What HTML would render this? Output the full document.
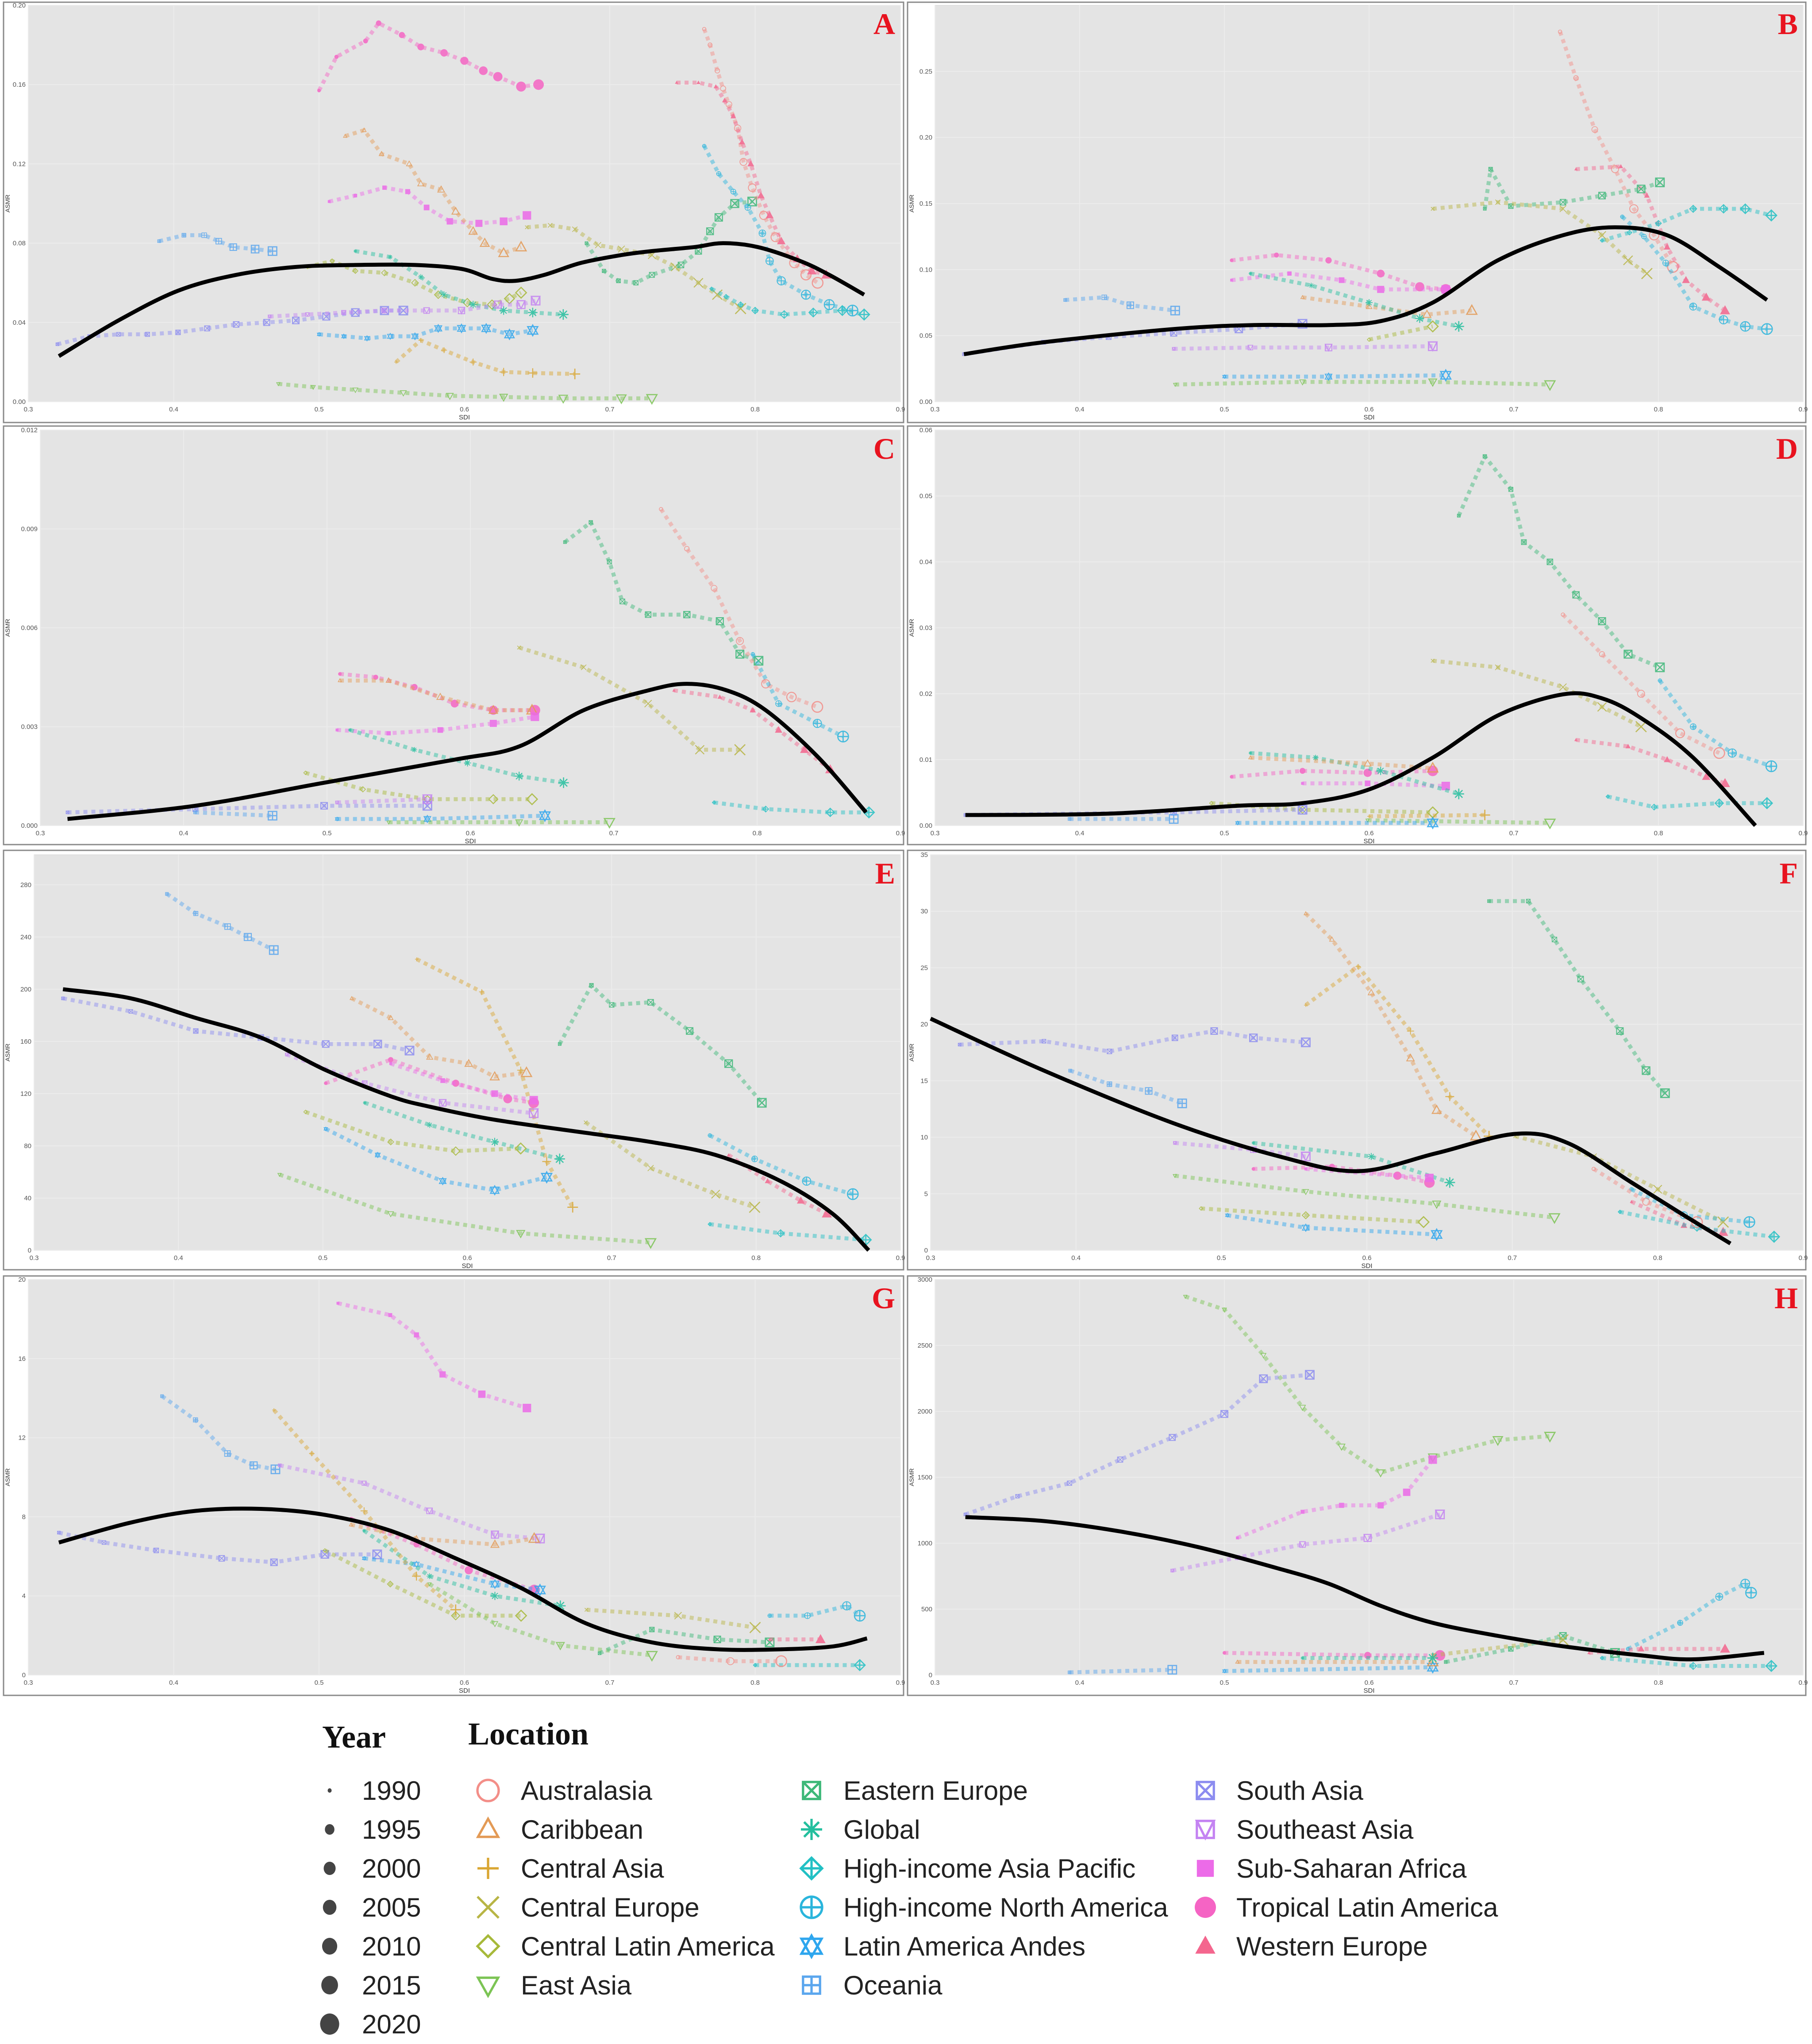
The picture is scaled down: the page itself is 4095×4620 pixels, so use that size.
<!DOCTYPE html>
<html><head><meta charset="utf-8">
<style>
html,body{margin:0;padding:0;background:#fff;}
svg{display:block;}
</style></head>
<body>
<svg id="chart" width="4095" height="4620" viewBox="0 0 4095 4620" xmlns="http://www.w3.org/2000/svg">
<rect width="4095" height="4620" fill="#fff"/>
<g id="panels"></g>
<g id="legend" font-family="Liberation Sans, sans-serif">
  <text x="728" y="3950" font-family="Liberation Serif, serif" font-weight="bold" font-size="72" fill="#111">Year</text>
  <text x="1058" y="3943" font-family="Liberation Serif, serif" font-weight="bold" font-size="72" fill="#111">Location</text>
</g>
</svg>
<script>
const NS='http://www.w3.org/2000/svg';
const svg=document.getElementById('chart');
const panelsG=document.getElementById('panels');

const locNames=['Australasia','Caribbean','Central Asia','Central Europe','Central Latin America','East Asia','Eastern Europe','Global','High-income Asia Pacific','High-income North America','Latin America Andes','Oceania','South Asia','Southeast Asia','Sub-Saharan Africa','Tropical Latin America','Western Europe'];
const locKeys=['aus','car','cas','ceu','cla','eas','eeu','glo','hap','hna','laa','oce','sas','sea','ssa','tla','weu'];
const locShapes=['circle','tri','plus','x','diamond','dtri','sqx','star','diaplus','cirplus','david','sqplus','sqx','hour','sqfill','cirfill','trifill'];
const locColors=['#F38E88','#E39A55','#D9A632','#B8B545','#A7B93A','#7CC454','#3DB878','#24BF9E','#22C0C4','#2AB5DC','#2EA6EE','#5AA6EE','#8C8CF0','#C483F2','#EC6BE8','#F564C4','#F4668E'];
const yearLabels=['1990','1995','2000','2005','2010','2015','2020'];
const yearSizes=[5,12,15,17,19,21,24];

// ---- Panel A data ----
const A_curve_x=[.321,.362,.403,.443,.484,.525,.566,.598,.619,.635,.655,.68,.708,.729,.758,.778,.802,.831,.851,.875];
const A_curve_y=[.023,.041,.056,.064,.068,.069,.069,.067,.062,.061,.064,.070,.074,.076,.078,.080,.078,.071,.064,.054];
const A_series=[
 ['tla',[.5,.512,.532,.541,.557,.57,.586,.6,.613,.623,.639,.651],[.157,.174,.182,.191,.185,.179,.176,.172,.167,.164,.159,.160]],
 ['ssa',[.507,.525,.545,.561,.574,.59,.61,.627,.643],[.101,.104,.108,.106,.098,.091,.090,.091,.094]],
 ['car',[.518,.531,.543,.562,.57,.584,.594,.606,.614,.627,.639],[.134,.137,.125,.120,.110,.107,.096,.086,.080,.075,.078]],
 ['cas',[.553,.57,.586,.606,.627,.647,.676],[.020,.031,.026,.020,.015,.0145,.014]],
 ['ceu',[.643,.659,.676,.692,.708,.729,.745,.761,.774,.79],[.088,.089,.087,.079,.077,.074,.068,.060,.054,.047]],
 ['cla',[.492,.509,.525,.545,.566,.582,.602,.619,.631,.639],[.068,.071,.066,.065,.060,.054,.050,.049,.052,.055]],
 ['eas',[.472,.496,.525,.558,.59,.627,.668,.708,.729],[.009,.0074,.006,.0045,.003,.0024,.0017,.0017,.0017]],
 ['eeu',[.684,.696,.706,.718,.729,.749,.761,.769,.775,.786,.798],[.080,.066,.061,.060,.064,.069,.076,.086,.093,.100,.101]],
 ['glo',[.525,.549,.57,.586,.606,.627,.647,.668],[.076,.073,.063,.054,.049,.046,.045,.044]],
 ['hna',[.765,.775,.785,.795,.805,.81,.818,.835,.851,.867],[.129,.115,.106,.098,.085,.071,.061,.054,.049,.046]],
 ['hap',[.77,.78,.79,.80,.82,.84,.86,.875],[.057,.053,.049,.046,.044,.045,.046,.044]],
 ['laa',[.5,.517,.533,.549,.566,.582,.598,.615,.631,.647],[.034,.033,.032,.033,.033,.037,.037,.037,.034,.036]],
 ['oce',[.39,.407,.421,.431,.441,.456,.468],[.081,.084,.084,.081,.078,.077,.076]],
 ['sas',[.32,.342,.362,.382,.403,.423,.443,.464,.484,.505,.525,.545,.558],[.029,.033,.034,.034,.035,.037,.039,.040,.041,.043,.045,.046,.046]],
 ['sea',[.466,.492,.517,.545,.574,.598,.623,.639,.649],[.043,.044,.045,.046,.046,.046,.049,.049,.051]],
 ['aus',[.765,.769,.774,.778,.782,.788,.792,.798,.806,.814,.827,.835,.843],[.188,.180,.167,.158,.150,.138,.121,.108,.094,.083,.070,.064,.060]],
 ['weu',[.746,.761,.773,.779,.785,.791,.797,.804,.81,.818,.829,.839,.849],[.161,.161,.159,.152,.144,.131,.120,.104,.094,.081,.072,.066,.064]]
];
// ---- Panel B ----
const B_curve_x=[.32,.375,.465,.52,.572,.608,.644,.689,.734,.77,.806,.842,.875];
const B_curve_y=[.036,.045,.055,.058,.058,.061,.075,.107,.126,.132,.126,.102,.077];
const B_series=[
 ['aus',[.732,.743,.756,.77,.783,.797,.81],[.28,.245,.206,.176,.146,.126,.102]],
 ['weu',[.743,.774,.792,.806,.819,.833,.846],[.176,.178,.156,.117,.092,.079,.069]],
 ['hna',[.775,.79,.805,.824,.845,.86,.875],[.14,.125,.105,.072,.062,.057,.055]],
 ['hap',[.761,.78,.80,.824,.845,.86,.878],[.122,.128,.135,.146,.146,.146,.141]],
 ['eeu',[.68,.684,.698,.734,.761,.788,.801],[.146,.176,.148,.151,.156,.161,.166]],
 ['ceu',[.644,.689,.734,.761,.779,.792],[.146,.151,.146,.126,.107,.097]],
 ['tla',[.505,.536,.572,.608,.635,.653],[.107,.111,.107,.097,.087,.085]],
 ['ssa',[.505,.545,.581,.608,.653],[.092,.097,.092,.085,.085]],
 ['car',[.554,.6,.64,.671],[.079,.072,.066,.069]],
 ['glo',[.518,.56,.6,.635,.662],[.097,.088,.075,.063,.057]],
 ['oce',[.39,.417,.435,.466],[.077,.079,.073,.069]],
 ['sas',[.32,.375,.42,.465,.51,.554],[.036,.045,.049,.052,.055,.059]],
 ['sea',[.465,.518,.572,.644],[.040,.041,.041,.042]],
 ['eas',[.466,.554,.644,.725],[.013,.015,.015,.013]],
 ['laa',[.5,.572,.653],[.019,.019,.020]],
 ['cla',[.6,.644],[.047,.057]]
];
// ---- Panel C ----
const C_curve_x=[.319,.408,.498,.589,.634,.679,.724,.751,.779,.806,.842,.876];
const C_curve_y=[.0002,.0006,.0013,.002,.0024,.0035,.0041,.0043,.0041,.0035,.0021,.0004];
const C_series=[
 ['eeu',[.666,.684,.697,.706,.724,.751,.774,.788,.801],[.0086,.0092,.008,.0068,.0064,.0064,.0062,.0052,.005]],
 ['aus',[.733,.751,.77,.788,.806,.824,.842],[.0096,.0084,.0072,.0056,.0043,.0039,.0036]],
 ['weu',[.742,.774,.797,.815,.833,.851],[.0041,.0039,.0035,.0029,.0023,.0017]],
 ['hna',[.797,.815,.842,.86],[.0052,.0037,.0031,.0027]],
 ['ceu',[.634,.679,.724,.76,.788],[.0054,.0048,.0037,.0023,.0023]],
 ['tla',[.509,.534,.561,.589,.616,.645],[.0046,.0045,.0042,.0037,.0035,.0035]],
 ['car',[.509,.543,.579,.616,.643],[.0044,.0044,.0039,.0035,.0035]],
 ['ssa',[.507,.543,.579,.616,.645],[.0029,.0028,.0029,.0031,.0033]],
 ['glo',[.516,.561,.598,.634,.665],[.0029,.0023,.0019,.0015,.0013]],
 ['cla',[.485,.525,.57,.616,.643],[.0016,.0011,.0008,.0008,.0008]],
 ['sas',[.319,.408,.498,.57],[.0004,.0005,.0006,.0006]],
 ['oce',[.408,.462],[.0004,.0003]],
 ['laa',[.507,.57,.652],[.0002,.0002,.0003]],
 ['eas',[.543,.634,.697],[.0001,.0001,.0001]],
 ['hap',[.77,.806,.851,.878],[.0007,.0005,.0004,.0004]],
 ['sea',[.507,.57],[.0007,.0008]]
];
// ---- Panel D ----
const D_curve_x=[.321,.419,.509,.554,.599,.644,.689,.734,.761,.788,.824,.867];
const D_curve_y=[.0016,.0018,.003,.0034,.0054,.0103,.0167,.0199,.0193,.0163,.0103,0];
const D_series=[
 ['eeu',[.662,.68,.698,.707,.725,.743,.761,.779,.801],[.047,.056,.051,.043,.040,.035,.031,.026,.024]],
 ['ceu',[.644,.689,.734,.761,.788],[.025,.024,.021,.018,.015]],
 ['aus',[.734,.761,.788,.815,.842],[.032,.026,.020,.014,.011]],
 ['hna',[.801,.824,.851,.878],[.022,.015,.011,.009]],
 ['weu',[.743,.779,.806,.833,.846],[.013,.012,.010,.0074,.0064]],
 ['hap',[.765,.797,.842,.875],[.0044,.0028,.0034,.0034]],
 ['tla',[.505,.554,.599,.644],[.0074,.0083,.008,.0083]],
 ['ssa',[.554,.599,.653],[.0064,.0064,.006]],
 ['glo',[.518,.563,.608,.662],[.011,.0103,.0083,.0048]],
 ['car',[.518,.599,.644],[.0103,.0094,.0087]],
 ['cla',[.491,.554,.644],[.0034,.0024,.002]],
 ['sas',[.321,.465,.554],[.0016,.002,.0024]],
 ['eas',[.599,.725],[.0008,.0004]],
 ['laa',[.509,.644],[.0004,.0004]],
 ['oce',[.393,.465],[.001,.001]],
 ['cas',[.6,.68],[.0014,.0016]]
];
// ---- Panel E ----
const E_curve_x=[.32,.367,.412,.457,.502,.547,.574,.619,.682,.727,.772,.817,.853,.878];
const E_curve_y=[200,193,178,163,138,118,110,100,90,83,73,53,28,0];
const E_series=[
 ['oce',[.392,.412,.434,.448,.466],[273,258,248,240,230]],
 ['sas',[.32,.367,.412,.457,.502,.538,.56],[193,183,168,163,158,158,153]],
 ['car',[.52,.547,.574,.601,.619,.641],[193,178,148,143,133,136]],
 ['cas',[.565,.61,.637,.655,.673],[223,198,138,68,33]],
 ['eeu',[.664,.686,.7,.727,.754,.781,.804],[158,203,188,190,168,143,113]],
 ['tla',[.502,.547,.592,.628,.646],[128,146,128,116,113]],
 ['ssa',[.547,.583,.619,.646],[143,130,120,115]],
 ['sea',[.475,.529,.583,.646],[150,128,113,105]],
 ['glo',[.529,.574,.619,.664],[113,96,83,70]],
 ['cla',[.488,.547,.592,.637],[106,83,76,78]],
 ['laa',[.502,.538,.583,.619,.655],[93,73,53,46,56]],
 ['eas',[.47,.547,.637,.727],[58,28,13,6]],
 ['ceu',[.682,.727,.772,.799],[98,63,43,33]],
 ['hna',[.768,.799,.835,.867],[88,70,53,43]],
 ['weu',[.781,.808,.831,.849],[73,53,38,28]],
 ['hap',[.768,.817,.876],[20,13,8]]
];
// ---- Panel F ----
const F_curve_x=[.3,.378,.468,.54,.594,.648,.702,.738,.782,.818,.85];
const F_curve_y=[20.5,15.9,11.2,8.3,7,8.6,10.3,9.5,6,3.1,.6];
const F_series=[
 ['sas',[.32,.378,.423,.468,.495,.522,.558],[18.2,18.5,17.6,18.8,19.4,18.8,18.4]],
 ['oce',[.396,.423,.45,.473],[15.9,14.7,14.1,13]],
 ['car',[.558,.576,.603,.63,.648,.675],[29.8,27.5,22.8,17,12.4,10.1]],
 ['cas',[.558,.594,.63,.657,.684],[21.7,25.1,19.4,13.6,10.1]],
 ['eeu',[.684,.711,.729,.747,.774,.792,.805],[30.9,30.9,27.5,24,19.4,15.9,13.9]],
 ['sea',[.468,.522,.558],[9.5,8.9,8.3]],
 ['glo',[.522,.603,.657],[9.5,8.3,6]],
 ['tla',[.522,.576,.621,.643],[7.2,7.4,6.6,6]],
 ['ssa',[.558,.643],[7.2,6.4]],
 ['cla',[.486,.558,.639],[3.7,3.1,2.5]],
 ['laa',[.504,.558,.648],[3.1,2,1.4]],
 ['eas',[.468,.558,.648,.729],[6.6,5.2,4.1,2.9]],
 ['ceu',[.702,.756,.8,.845],[10.1,8.3,5.4,2.5]],
 ['hna',[.782,.818,.863],[5.4,3.1,2.5]],
 ['weu',[.782,.818,.845],[4.3,2.2,1.6]],
 ['hap',[.774,.827,.88],[3.4,2,1.2]],
 ['aus',[.756,.792,.827],[7.2,4.3,2.5]]
];
// ---- Panel G ----
const G_curve_x=[.321,.37,.415,.46,.504,.549,.594,.639,.684,.729,.774,.818,.854,.877];
const G_curve_y=[6.7,7.7,8.3,8.4,8.1,7.3,5.9,4.4,2.6,1.65,1.3,1.3,1.45,1.85];
const G_series=[
 ['ssa',[.513,.549,.567,.585,.612,.643],[18.8,18.2,17.2,15.2,14.2,13.5]],
 ['oce',[.392,.415,.437,.455,.47],[14.1,12.9,11.2,10.6,10.4]],
 ['sas',[.321,.352,.388,.433,.469,.504,.54],[7.2,6.7,6.3,5.9,5.7,6.1,6.1]],
 ['sea',[.473,.531,.576,.621,.652],[10.6,9.7,8.3,7.1,6.9]],
 ['car',[.522,.567,.621,.648],[7.6,6.9,6.6,6.9]],
 ['tla',[.522,.567,.603,.648],[7.9,6.6,5.3,4.3]],
 ['laa',[.531,.567,.621,.652],[5.9,5.6,4.6,4.3]],
 ['glo',[.531,.576,.621,.666],[7.3,5,4,3.5]],
 ['cla',[.504,.549,.594,.639],[6.3,4.6,3,3]],
 ['cas',[.469,.495,.531,.567,.594],[13.4,11.2,8.3,5,3.3]],
 ['eas',[.576,.621,.666,.729],[4.6,2.6,1.5,1]],
 ['ceu',[.684,.747,.8],[3.3,3,2.4]],
 ['eeu',[.693,.729,.774,.81],[1.1,2.3,1.8,1.65]],
 ['hna',[.81,.836,.863,.872],[3,3,3.5,3]],
 ['weu',[.81,.845],[1.8,1.8]],
 ['hap',[.8,.872],[.5,.5]],
 ['aus',[.747,.783,.818],[.9,.7,.7]]
];
// ---- Panel H ----
const H_curve_x=[.321,.375,.428,.482,.536,.572,.608,.644,.689,.734,.788,.824,.873];
const H_curve_y=[1198,1168,1089,970,812,693,525,396,297,218,149,119,168];
const H_series=[
 ['sas',[.321,.357,.393,.428,.464,.5,.527,.559],[1218,1356,1455,1634,1802,1980,2247,2277]],
 ['eas',[.473,.5,.527,.554,.581,.608,.644,.689,.725],[2871,2772,2426,2030,1733,1535,1653,1782,1812]],
 ['ssa',[.509,.554,.581,.608,.626,.644],[1040,1238,1287,1287,1386,1634]],
 ['sea',[.464,.509,.554,.599,.649],[792,891,990,1040,1218]],
 ['hna',[.779,.815,.842,.86,.864],[198,396,594,693,624]],
 ['tla',[.5,.599,.649],[168,149,149]],
 ['weu',[.752,.788,.846],[168,198,198]],
 ['hap',[.761,.824,.878],[129,69,69]],
 ['eeu',[.653,.698,.734,.77],[99,198,297,168]],
 ['ceu',[.644,.734],[149,267]],
 ['oce',[.393,.464],[20,40]],
 ['laa',[.5,.644],[30,59]],
 ['car',[.509,.644],[99,99]],
 ['glo',[.554,.644],[129,129]]
];

const panels=[
 {id:'A',fx:8,fy:5,fw:2034,fh:950,pl:64,pr:2035,pt:12,pb:908,ymax:.2,ticks:[0,.04,.08,.12,.16,.20],dec:2,cx:A_curve_x,cy:A_curve_y,s:A_series},
 {id:'B',fx:2051,fy:5,fw:2030,fh:950,pl:2113,pr:4075,pt:12,pb:908,ymax:.3,ticks:[0,.05,.10,.15,.20,.25],dec:2,cx:B_curve_x,cy:B_curve_y,s:B_series},
 {id:'C',fx:8,fy:963,fw:2034,fh:946,pl:91,pr:2035,pt:972,pb:1866,ymax:.012,ticks:[0,.003,.006,.009,.012],dec:3,cx:C_curve_x,cy:C_curve_y,s:C_series},
 {id:'D',fx:2051,fy:963,fw:2030,fh:946,pl:2113,pr:4075,pt:972,pb:1866,ymax:.06,ticks:[0,.01,.02,.03,.04,.05,.06],dec:2,cx:D_curve_x,cy:D_curve_y,s:D_series},
 {id:'E',fx:8,fy:1922,fw:2034,fh:948,pl:77,pr:2035,pt:1932,pb:2826,ymax:303,ticks:[0,40,80,120,160,200,240,280],dec:0,cx:E_curve_x,cy:E_curve_y,s:E_series},
 {id:'F',fx:2051,fy:1922,fw:2030,fh:948,pl:2103,pr:4075,pt:1932,pb:2826,ymax:35,ticks:[0,5,10,15,20,25,30,35],dec:0,cx:F_curve_x,cy:F_curve_y,s:F_series},
 {id:'G',fx:8,fy:2884,fw:2034,fh:948,pl:64,pr:2035,pt:2892,pb:3786,ymax:20,ticks:[0,4,8,12,16,20],dec:0,cx:G_curve_x,cy:G_curve_y,s:G_series},
 {id:'H',fx:2051,fy:2884,fw:2030,fh:948,pl:2113,pr:4075,pt:2892,pb:3786,ymax:3000,ticks:[0,500,1000,1500,2000,2500,3000],dec:0,cx:H_curve_x,cy:H_curve_y,s:H_series}
];
const xTicks=[0.3,0.4,0.5,0.6,0.7,0.8,0.9];

function el(tag,attrs,parent){const e=document.createElementNS(NS,tag);for(const k in attrs)e.setAttribute(k,attrs[k]);if(parent)parent.appendChild(e);return e;}

function marker(g,shape,x,y,r,c){
  const sw=Math.max(1.5,r*0.22);
  const st={fill:'none',stroke:c,'stroke-width':sw};
  const tri=(s)=>`${x},${y-s} ${x+s*0.95},${y+s*0.7} ${x-s*0.95},${y+s*0.7}`;
  const dtri=(s)=>`${x},${y+s} ${x+s*0.95},${y-s*0.7} ${x-s*0.95},${y-s*0.7}`;
  switch(shape){
    case 'circle': el('circle',Object.assign({cx:x,cy:y,r:r},st),g);break;
    case 'cirfill': el('circle',{cx:x,cy:y,r:r,fill:c},g);break;
    case 'tri': el('polygon',Object.assign({points:tri(r)},st),g);break;
    case 'trifill': el('polygon',{points:tri(r),fill:c},g);break;
    case 'dtri': el('polygon',Object.assign({points:dtri(r)},st),g);break;
    case 'plus': el('path',Object.assign({d:`M${x-r},${y}H${x+r}M${x},${y-r}V${y+r}`},st),g);break;
    case 'x': el('path',Object.assign({d:`M${x-r},${y-r}L${x+r},${y+r}M${x-r},${y+r}L${x+r},${y-r}`},st),g);break;
    case 'diamond': el('polygon',Object.assign({points:`${x},${y-r} ${x+r},${y} ${x},${y+r} ${x-r},${y}`},st),g);break;
    case 'diaplus': el('polygon',Object.assign({points:`${x},${y-r} ${x+r},${y} ${x},${y+r} ${x-r},${y}`},st),g);
      el('path',Object.assign({d:`M${x-r},${y}H${x+r}M${x},${y-r}V${y+r}`},st),g);break;
    case 'cirplus': el('circle',Object.assign({cx:x,cy:y,r:r},st),g);
      el('path',Object.assign({d:`M${x-r},${y}H${x+r}M${x},${y-r}V${y+r}`},st),g);break;
    case 'sqx': el('rect',Object.assign({x:x-r*.8,y:y-r*.8,width:r*1.6,height:r*1.6},st),g);
      el('path',Object.assign({d:`M${x-r*.8},${y-r*.8}L${x+r*.8},${y+r*.8}M${x-r*.8},${y+r*.8}L${x+r*.8},${y-r*.8}`},st),g);break;
    case 'sqplus': el('rect',Object.assign({x:x-r*.8,y:y-r*.8,width:r*1.6,height:r*1.6},st),g);
      el('path',Object.assign({d:`M${x-r*.8},${y}H${x+r*.8}M${x},${y-r*.8}V${y+r*.8}`},st),g);break;
    case 'sqfill': el('rect',{x:x-r*.8,y:y-r*.8,width:r*1.6,height:r*1.6,fill:c},g);break;
    case 'hour': el('rect',Object.assign({x:x-r*.8,y:y-r*.8,width:r*1.6,height:r*1.6},st),g);
      el('polygon',Object.assign({points:`${x-r*.8},${y-r*.8} ${x+r*.8},${y-r*.8} ${x},${y+r*.8}`},st),g);break;
    case 'david': el('polygon',Object.assign({points:tri(r)},st),g);el('polygon',Object.assign({points:dtri(r)},st),g);break;
    case 'star': el('path',Object.assign({d:`M${x-r},${y}H${x+r}M${x},${y-r}V${y+r}M${x-r*.7},${y-r*.7}L${x+r*.7},${y+r*.7}M${x-r*.7},${y+r*.7}L${x+r*.7},${y-r*.7}`},st),g);break;
  }
}

function smoothPath(pts){
  let d=`M${pts[0][0]},${pts[0][1]}`;
  for(let i=0;i<pts.length-1;i++){
    const p0=pts[Math.max(0,i-1)],p1=pts[i],p2=pts[i+1],p3=pts[Math.min(pts.length-1,i+2)];
    const c1=[p1[0]+(p2[0]-p0[0])/6,p1[1]+(p2[1]-p0[1])/6];
    const c2=[p2[0]-(p3[0]-p1[0])/6,p2[1]-(p3[1]-p1[1])/6];
    d+=`C${c1[0]},${c1[1]} ${c2[0]},${c2[1]} ${p2[0]},${p2[1]}`;
  }
  return d;
}

panels.forEach(p=>{
  const g=el('g',{},panelsG);
  
  
  const xs=v=>p.pl+(v-0.3)/0.6*(p.pr-p.pl);
  const ys=v=>p.pb-(v/p.ymax)*(p.pb-p.pt);
  const frame=el('rect',{x:p.fx,y:p.fy,width:p.fw,height:p.fh,fill:'#fff',stroke:'#8a8a8a','stroke-width':3},g);
  
  
  const bg=el('rect',{x:p.pl,y:p.pt,width:p.pr-p.pl,height:p.pb-p.pt,fill:'#E4E4E4',stroke:'#d0d0d0','stroke-width':1},g);
  
  
  xTicks.forEach(t=>{const x=xs(t);el('line',{x1:x,x2:x,y1:p.pt,y2:p.pb,stroke:'#ececec','stroke-width':2},g);});
  p.ticks.forEach(t=>{const y=ys(t);el('line',{x1:p.pl,x2:p.pr,y1:y,y2:y,stroke:'#ececec','stroke-width':2},g);});
  p.ticks.forEach(t=>{
    const tl=el('text',{x:p.pl-6,y:ys(t)+5,'text-anchor':'end','font-size':15,fill:'#555','font-family':'Liberation Sans, sans-serif'},g);
    tl.textContent=t.toFixed(p.dec);
    
    
  });
  xTicks.forEach(t=>{
    const tl=el('text',{x:xs(t),y:p.pb+22,'text-anchor':'middle','font-size':15,fill:'#555','font-family':'Liberation Sans, sans-serif'},g);
    tl.textContent=t.toFixed(1);
    
    
  });
  const xt=el('text',{x:(p.pl+p.pr)/2,y:p.pb+40,'text-anchor':'middle','font-size':15,fill:'#333','font-family':'Liberation Sans, sans-serif'},g);
  xt.textContent='SDI';
  
  
  const yt=el('text',{x:0,y:0,'text-anchor':'middle','font-size':14,fill:'#333','font-family':'Liberation Sans, sans-serif',transform:`translate(${p.fx+14},${(p.pt+p.pb)/2}) rotate(-90)`},g);
  yt.textContent='ASMR';
  
  
  p.s.forEach(s=>{
    const idx=locKeys.indexOf(s[0]);
    const c=locColors[idx],shape=locShapes[idx];
    const sg=el('g',{opacity:0.85},g);
    
    
    const pts=s[1].map((v,i)=>[xs(v),ys(s[2][i])]);
    if(pts.length>1){
      el('polyline',{points:pts.map(q=>q.join(',')).join(' '),fill:'none',stroke:c,'stroke-width':9,'stroke-dasharray':'9 9',opacity:0.55,'stroke-linejoin':'round'},sg);
    }
    const n=pts.length;
    pts.forEach((q,i)=>{
      const r=4+ (n>1? i/(n-1):1)*8;
      marker(sg,shape,q[0],q[1],r,c);
    });
  });
  const cp=p.cx.map((v,i)=>[xs(v),ys(p.cy[i])]);
  const path=el('path',{d:smoothPath(cp),fill:'none',stroke:'#000','stroke-width':9,'stroke-linecap':'butt','stroke-linejoin':'round'},g);
  
  
  const lt=el('text',{x:p.pr-12,y:p.pt+65,'text-anchor':'end','font-size':68,'font-weight':'bold',fill:'#E8131F','font-family':'Liberation Serif, serif'},g);
  lt.textContent=p.id;
  
  
});

const lg=document.getElementById('legend');
const rowY=k=>4047+k*88;
yearLabels.forEach((y,k)=>{
  const gi=el('g',{},lg);
  
  
  el('ellipse',{cx:745,cy:rowY(k),rx:yearSizes[k]*0.9,ry:yearSizes[k],fill:'#444'},gi);
  const t=el('text',{x:818,y:rowY(k)+21,'font-size':60,fill:'#222'},gi);
  t.textContent=y;
});
const colX=[[1103,1177],[1834,1906],[2724,2794]];
const colStart=[0,6,12];
locNames.forEach((nm,i)=>{
  const col=i<6?0:(i<12?1:2);
  const k=i-colStart[col];
  const gi=el('g',{},lg);
  
  
  marker(gi,locShapes[i],colX[col][0],rowY(k),24,locColors[i]);
  const t=el('text',{x:colX[col][1],y:rowY(k)+21,'font-size':60,fill:'#222'},gi);
  t.textContent=nm;
});
</script>
</body></html>
